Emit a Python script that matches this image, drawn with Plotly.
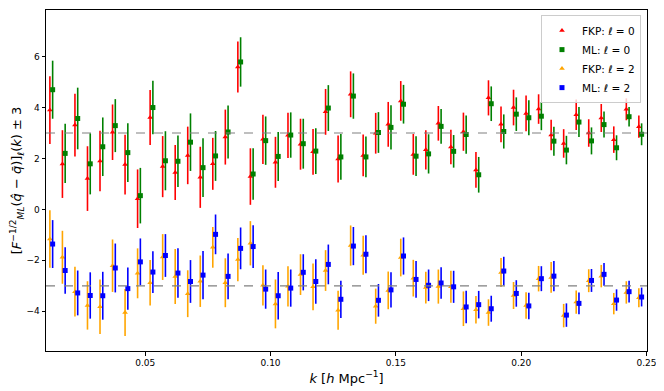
import plotly.graph_objects as go

# k bin centres [h/Mpc]
k = [0.0125 + 0.005 * i for i in range(48)]

# values as plotted (monopole shifted +3, quadrupole shifted -3)
fkp0 = [3.90, 1.78, 3.31, 1.21, 1.90, 3.03, 1.76, 0.42, 3.61, 1.68, 1.45, 2.12,
        1.26, 1.79, 2.84, 5.59, 1.29, 2.75, 1.85, 2.91, 2.56, 2.26, 3.83, 1.98,
        4.52, 2.12, 2.99, 3.34, 4.26, 2.16, 2.34, 3.38, 2.45, 3.05, 1.55, 4.38,
        3.34, 4.00, 3.77, 3.94, 2.92, 2.59, 3.72, 3.00, 3.59, 2.74, 3.93, 3.25]
fkp0_err = [1.33, 1.33, 1.23, 1.27, 1.19, 1.09, 1.17, 1.15, 1.08, 1.20, 1.08, 1.13,
            1.20, 1.02, 1.08, 1.00, 1.11, 0.97, 1.00, 0.89, 1.00, 0.90, 0.90, 0.92,
            0.90, 0.82, 0.80, 0.88, 0.78, 0.80, 0.77, 0.68, 0.68, 0.75, 0.70, 0.69,
            0.70, 0.70, 0.70, 0.58, 0.60, 0.56, 0.60, 0.54, 0.55, 0.52, 0.43, 0.44]

ml0 = [4.70, 2.20, 3.57, 1.79, 2.46, 3.29, 2.23, 0.54, 4.00, 1.91, 1.89, 2.64,
       1.64, 2.10, 3.04, 5.79, 1.39, 2.70, 2.08, 2.92, 2.58, 2.29, 3.98, 2.06,
       4.45, 2.06, 3.02, 3.22, 4.13, 2.09, 2.18, 3.26, 2.28, 2.94, 1.36, 4.15,
       3.06, 3.74, 3.60, 3.66, 2.68, 2.33, 3.43, 2.69, 3.33, 2.42, 3.64, 2.95]
ml0_err = [1.14, 1.16, 1.21, 1.20, 1.15, 1.04, 1.15, 1.09, 1.05, 1.16, 1.01, 1.13,
           1.15, 0.98, 1.04, 0.97, 1.01, 0.95, 0.96, 0.89, 0.98, 0.90, 0.90, 0.90,
           0.89, 0.80, 0.80, 0.87, 0.76, 0.78, 0.77, 0.68, 0.64, 0.75, 0.70, 0.68,
           0.67, 0.66, 0.69, 0.55, 0.57, 0.56, 0.59, 0.53, 0.51, 0.49, 0.38, 0.43]

fkp2 = [-1.16, -1.88, -3.23, -3.77, -3.82, -2.21, -4.05, -2.51, -2.88, -1.87, -2.63, -3.31,
        -2.82, -1.49, -2.88, -1.97, -1.33, -2.98, -3.71, -3.02, -2.56, -3.04, -2.40, -3.96,
        -1.42, -1.80, -3.80, -3.18, -1.89, -2.70, -3.07, -3.03, -3.04, -3.90, -3.94, -4.05,
        -2.48, -3.38, -3.77, -2.72, -2.67, -4.17, -3.64, -2.80, -2.62, -3.70, -3.26, -3.47]
fkp2_err = [1.13, 1.04, 0.98, 0.95, 1.07, 1.03, 0.92, 0.98, 0.89, 0.90, 1.08, 0.92,
            1.01, 0.80, 0.96, 0.85, 0.87, 0.79, 0.96, 0.79, 0.80, 0.92, 0.80, 0.77,
            0.79, 0.77, 0.69, 0.74, 0.74, 0.72, 0.62, 0.67, 0.63, 0.68, 0.54, 0.52,
            0.57, 0.53, 0.52, 0.50, 0.60, 0.46, 0.46, 0.45, 0.44, 0.42, 0.44, 0.37]

ml2 = [-1.36, -2.40, -3.28, -3.38, -3.39, -2.30, -3.11, -2.06, -2.46, -1.81, -2.50, -2.83,
       -2.58, -0.98, -2.63, -1.53, -1.46, -3.13, -3.39, -3.09, -2.47, -2.83, -2.16, -3.53,
       -1.44, -1.76, -3.57, -3.16, -1.83, -2.75, -2.98, -2.89, -3.04, -3.83, -3.74, -3.90,
       -2.42, -3.30, -3.79, -2.72, -2.62, -4.15, -3.69, -2.79, -2.55, -3.56, -3.23, -3.44]
ml2_err = [0.94, 0.91, 0.88, 0.91, 0.94, 0.96, 0.83, 0.92, 0.82, 0.84, 0.97, 0.84,
           0.95, 0.78, 0.90, 0.82, 0.84, 0.77, 0.93, 0.73, 0.71, 0.87, 0.78, 0.73,
           0.75, 0.75, 0.64, 0.69, 0.73, 0.72, 0.62, 0.62, 0.63, 0.64, 0.54, 0.51,
           0.56, 0.52, 0.52, 0.49, 0.59, 0.46, 0.43, 0.45, 0.45, 0.42, 0.43, 0.37]

ref_levels = [3, -3]

dk = 0.00055  # small horizontal offset so FKP and ML bars don't overlap
k_left = [x - dk for x in k]
k_right = [x + dk for x in k]

series = [
    ("FKP: <i>ℓ</i> = 0", k_left, fkp0, fkp0_err, "red", "triangle-up"),
    ("ML: <i>ℓ</i> = 0", k_right, ml0, ml0_err, "green", "square"),
    ("FKP: <i>ℓ</i> = 2", k_left, fkp2, fkp2_err, "orange", "triangle-up"),
    ("ML: <i>ℓ</i> = 2", k_right, ml2, ml2_err, "blue", "square"),
]

fig = go.Figure()
for name, xs, ys, errs, color, symbol in series:
    fig.add_trace(go.Scatter(
        x=xs, y=ys, mode="markers", name=name,
        marker=dict(color=color, symbol=symbol, size=5),
        error_y=dict(type="data", array=errs, visible=True, color=color, thickness=1.6, width=0),
    ))

for lvl in ref_levels:
    fig.add_hline(y=lvl, line=dict(color="gray", width=1.2, dash="dash"))

axis_style = dict(
    showline=True, linecolor="black", linewidth=1, mirror=True,
    ticks="outside", ticklen=3.5, tickcolor="black", showgrid=False, zeroline=False,
    tickfont=dict(size=9, family="DejaVu Sans", color="black"),
)

fig.update_xaxes(
    range=[0.0104, 0.2502], dtick=0.05, tick0=0, tickformat=".2f",
    title=dict(text="<i>k</i> [<i>h</i> Mpc<sup>−1</sup>]", font=dict(size=13, family="DejaVu Sans", color="black"),
               standoff=6),
    **axis_style,
)
fig.update_yaxes(
    range=[-5.56, 7.83], dtick=2, tick0=0,
    title=dict(text="[<i>F</i><sup>−1/2</sup><sub><i>ML</i></sub>(<i>q̂</i> − <i>q̄</i>)]<sub><i>ℓ</i></sub>(<i>k</i>) ± 3",
               font=dict(size=13, family="DejaVu Sans", color="black"), standoff=8),
    **axis_style,
)

# the page body adds an 8px offset, so the figure is 8px smaller and margins shifted
fig.update_layout(
    width=656, height=383,
    margin=dict(l=37.5, r=16.5, t=1.5, b=40),
    plot_bgcolor="white", paper_bgcolor="white",
    showlegend=True,
    legend=dict(
        x=0.99, y=0.985, xanchor="right", yanchor="top",
        bgcolor="rgba(255,255,255,0.8)", bordercolor="#cccccc", borderwidth=1,
        font=dict(size=10.5, family="DejaVu Sans", color="black"),
        itemwidth=30, tracegroupgap=0,
    ),
)

fig.write_html("out.html")
